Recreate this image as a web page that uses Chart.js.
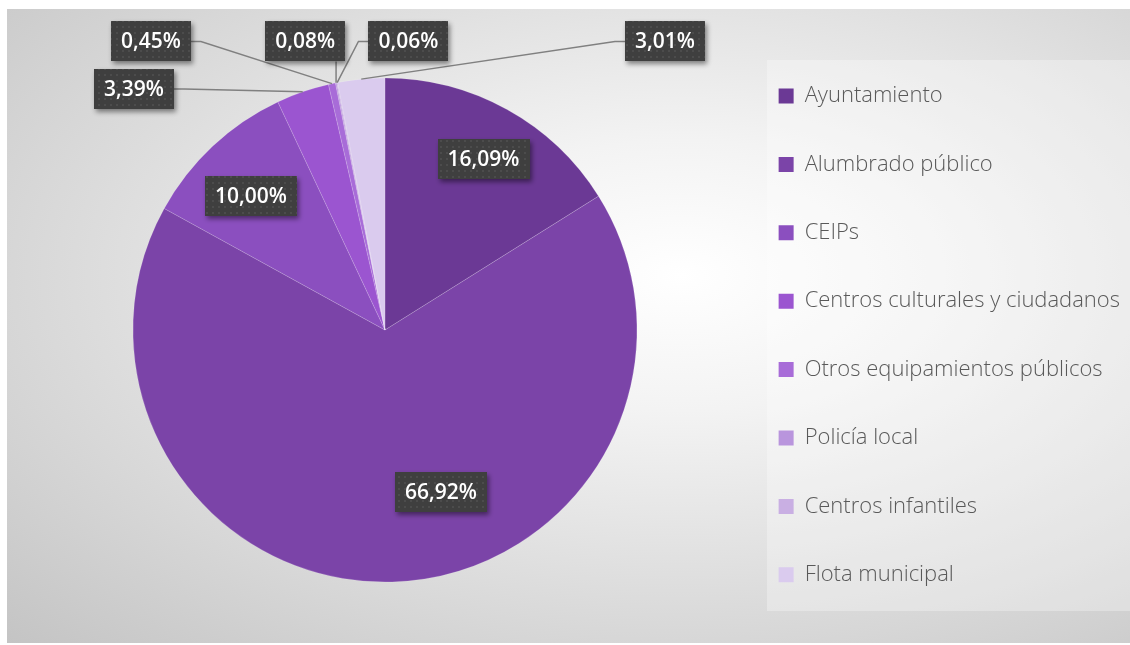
<!DOCTYPE html>
<html>
<head>
<meta charset="utf-8">
<script src="https://cdn.jsdelivr.net/npm/chart.js@4.4.1/dist/chart.umd.min.js"></script>
<style>
  html, body { margin: 0; padding: 0; background: #fff; }
  #wrap { position: relative; width: 1130px; height: 645px; overflow: hidden; }
  #panel { position: absolute; left: 7px; top: 9px; width: 1123px; height: 634px;
    background: radial-gradient(ellipse farthest-corner at 60% 42%, #ffffff 0%, #f3f3f3 26%, #c4c4c4 100%); }
  #legendBg { position: absolute; left: 767px; top: 60px; width: 363px; height: 551px;
    background: rgba(255, 255, 255, 0.3); }
  canvas { position: absolute; left: 0; top: 0; }
</style>
</head>
<body>
<div id="wrap">
  <div id="panel"></div>
  <div id="legendBg"></div>
  <canvas id="chart" width="1130" height="645"></canvas>
</div>
<script>
const categories = ['Ayuntamiento', 'Alumbrado público', 'CEIPs', 'Centros culturales y ciudadanos',
  'Otros equipamientos públicos', 'Policía local', 'Centros infantiles', 'Flota municipal'];
const shares = [16.09, 66.92, 10.00, 3.39, 0.45, 0.08, 0.06, 3.01];
const sliceColors = ['#6b3995', '#7b44a8', '#8b4fbf', '#9b55d0', '#a86cd8', '#b995dd', '#c9afe3', '#dacbee'];

// label centres, measured in pie radii from the pie centre
const labelPlaces = [
  [0.391, -0.677], [0.222, 0.643], [-0.532, -0.532], [-0.996, -0.956],
  [-0.929, -1.145], [-0.317, -1.145], [0.093, -1.145], [1.111, -1.145]
];

const legendFont = { family: '"Open Sans", "Noto Sans", sans-serif', size: 22, weight: '300' };
const labelFont = '600 21px "Open Sans", "Noto Sans", sans-serif';
const legendPad = 46.4;

function fmt(v) {
  return v.toFixed(2).replace('.', ',') + '%';
}

// dotted dark fill for the value boxes
const tile = document.createElement('canvas');
tile.width = 6; tile.height = 6;
const tctx = tile.getContext('2d');
tctx.fillStyle = '#3f3f3f';
tctx.fillRect(0, 0, 6, 6);
tctx.fillStyle = '#4c4c4c';
tctx.fillRect(2, 2, 2, 2);

// put the legend swatches near x = 779 and keep the pie centred at x = 385
const mctx = document.createElement('canvas').getContext('2d');
mctx.font = legendFont.weight + ' ' + legendFont.size + 'px ' + legendFont.family;
const longest = Math.max(...categories.map(c => mctx.measureText(c).width));
const itemW = 15 + legendFont.size / 2 + longest;
const padRight = Math.max(0, 1130 - 10 - itemW - 779);
const legendLeft = 1130 - padRight - (legendPad + itemW + 10);
const padLeft = Math.max(0, 770 - legendLeft);

const valueLabels = {
  id: 'valueLabels',
  afterDatasetsDraw(chart) {
    const ctx = chart.ctx;
    const arcs = chart.getDatasetMeta(0).data;
    const pattern = ctx.createPattern(tile, 'repeat');
    ctx.save();
    ctx.font = labelFont;
    const boxes = arcs.map((arc, i) => {
      const p = arc.getProps(['x', 'y', 'startAngle', 'endAngle', 'outerRadius'], true);
      const mid = (p.startAngle + p.endAngle) / 2;
      const text = fmt(shares[i]);
      const w = Math.round(ctx.measureText(text).width + 20), h = 40;
      const cx = p.x + labelPlaces[i][0] * p.outerRadius;
      const cy = p.y + labelPlaces[i][1] * p.outerRadius;
      return {
        text, w, h, cx, cy,
        ax: p.x + Math.cos(mid) * p.outerRadius,
        ay: p.y + Math.sin(mid) * p.outerRadius,
        outside: Math.hypot(cx - p.x, cy - p.y) > p.outerRadius
      };
    });

    // leader lines
    ctx.strokeStyle = '#808080';
    ctx.lineWidth = 1.5;
    boxes.forEach(b => {
      if (!b.outside) return;
      const x0 = b.cx - b.w / 2, x1 = b.cx + b.w / 2, y1 = b.cy + b.h / 2;
      ctx.beginPath();
      if (b.ax > x0 && b.ax < x1) {
        ctx.moveTo(b.ax, b.ay);
        ctx.lineTo(b.ax, y1);
      } else if (x1 < b.ax) {
        ctx.moveTo(b.ax, b.ay);
        ctx.lineTo(x1 + 10, b.cy);
        ctx.lineTo(x1, b.cy);
      } else {
        ctx.moveTo(b.ax, b.ay);
        ctx.lineTo(x0 - 10, b.cy);
        ctx.lineTo(x0, b.cy);
      }
      ctx.stroke();
    });

    // boxes and text
    boxes.forEach(b => {
      const x0 = Math.round(b.cx - b.w / 2), y0 = Math.round(b.cy - b.h / 2);
      ctx.save();
      ctx.shadowColor = 'rgba(0,0,0,0.45)';
      ctx.shadowBlur = 5;
      ctx.shadowOffsetX = 2;
      ctx.shadowOffsetY = 3;
      ctx.fillStyle = pattern;
      ctx.fillRect(x0, y0, b.w, b.h);
      ctx.restore();
      ctx.fillStyle = '#ffffff';
      ctx.textAlign = 'center';
      ctx.textBaseline = 'middle';
      ctx.fillText(b.text, b.cx, b.cy + 1);
    });
    ctx.restore();
  }
};

const chart = new Chart(document.getElementById('chart'), {
  type: 'pie',
  data: {
    labels: categories,
    datasets: [{
      data: shares,
      backgroundColor: sliceColors,
      borderColor: 'rgba(255,255,255,0.15)',
      borderWidth: 1,
      radius: 252
    }]
  },
  options: {
    responsive: false,
    animation: false,
    layout: { padding: { left: padLeft, right: padRight, top: 16, bottom: 1 } },
    plugins: {
      tooltip: { enabled: false },
      legend: {
        position: 'right',
        align: 'center',
        title: { display: true, text: '', font: { size: 1, lineHeight: 1.2 }, padding: { top: 4.8, bottom: 4.8 } },
        labels: {
          boxWidth: 15,
          boxHeight: 15,
          padding: legendPad,
          color: '#595959',
          font: legendFont,
          generateLabels(c) {
            return Chart.overrides.doughnut.plugins.legend.labels.generateLabels(c)
              .map(l => Object.assign(l, { lineWidth: 0 }));
          }
        }
      }
    }
  },
  plugins: [valueLabels]
});
</script>
</body>
</html>
